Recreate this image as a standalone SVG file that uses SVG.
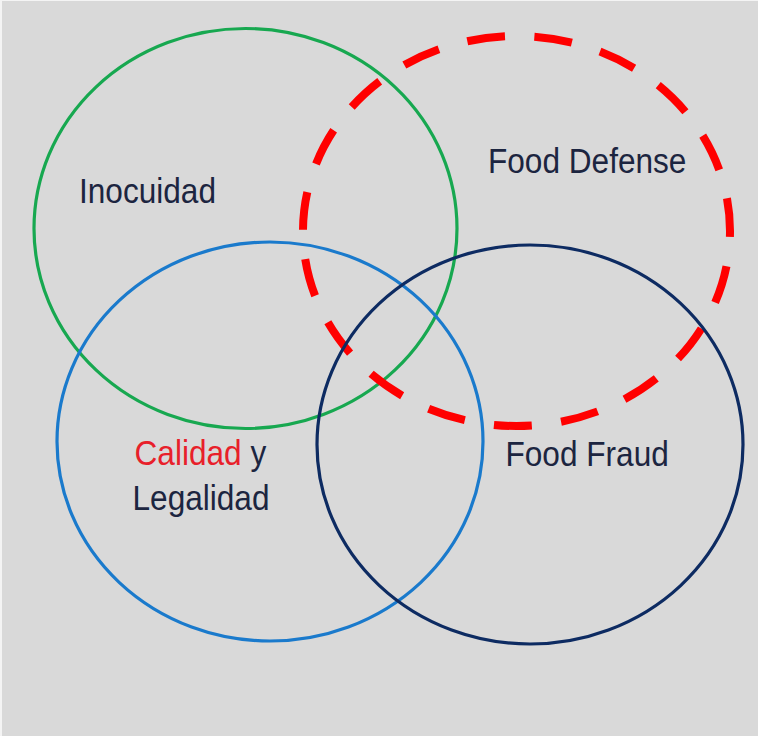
<svg xmlns="http://www.w3.org/2000/svg" width="758" height="736" viewBox="0 0 758 736">
<style>
.ring{fill:none;stroke-width:3.2}
.lbl{font-family:"Liberation Sans",Arial,sans-serif;font-size:31.6px;fill:#1c2540}
.red{fill:#e8202a}
</style>
<rect x="0" y="0" width="758" height="736" fill="#f4f4f4"/>
<rect x="2" y="1" width="756" height="735" fill="#d9d9d9"/>
<g id="inocuidad">
<ellipse class="ring" cx="245.5" cy="228.5" rx="211.5" ry="200" stroke="#17a850"/>
<text class="lbl" transform="translate(79,203) scale(1,1.13)">Inocuidad</text>
</g>
<g id="food-defense">
<ellipse cx="516.5" cy="231" rx="213.5" ry="195" fill="none" stroke="#ff0000" stroke-width="8" stroke-dasharray="38 29.5" stroke-dashoffset="32"/>
<text class="lbl" transform="translate(488,173) scale(1,1.13)">Food Defense</text>
</g>
<g id="calidad-legalidad">
<ellipse class="ring" cx="270" cy="441.5" rx="213" ry="199.5" stroke="#1a7acc"/>
<text class="lbl" transform="translate(134.5,465) scale(1,1.13)"><tspan class="red">Calidad</tspan> y</text>
<text class="lbl" transform="translate(132.5,510) scale(1,1.13)">Legalidad</text>
</g>
<g id="food-fraud">
<ellipse class="ring" cx="530" cy="444.5" rx="213" ry="199.5" stroke="#0d2b62"/>
<text class="lbl" transform="translate(505.5,466) scale(1,1.13)">Food Fraud</text>
</g>
<g id="connectors"></g>
</svg>
